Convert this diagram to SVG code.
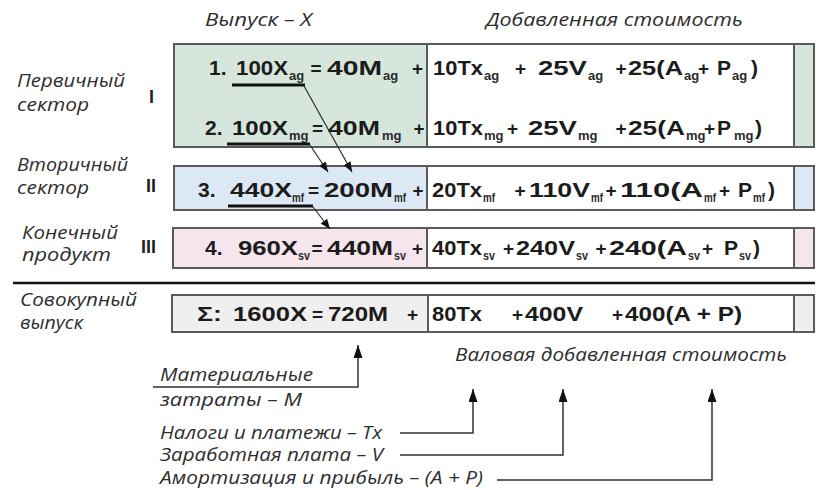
<svg xmlns="http://www.w3.org/2000/svg" width="822" height="490" viewBox="0 0 822 490">
<style>
  .eq { font-family: "Liberation Sans", Arial, sans-serif; font-weight: bold; font-size: 21px; fill: #1c1c1c; }
  .op { font-family: "Liberation Sans", Arial, sans-serif; font-weight: bold; font-size: 19px; fill: #1c1c1c; }
  .sub { font-family: "Liberation Sans", Arial, sans-serif; font-weight: bold; font-size: 13px; fill: #2a2a2a; }
  .lbl { font-family: "Open Sans", "Noto Sans", "Liberation Sans", sans-serif; font-style: italic; font-size: 18px; fill: #2e2e2e; }
  .rom { font-family: "Liberation Sans", Arial, sans-serif; font-weight: bold; font-size: 18px; fill: #222; }
  .box { stroke: #5a5a5a; stroke-width: 2; }
  .inner { fill: #ffffff; stroke: #5a5a5a; stroke-width: 2; }
  .ul { stroke: #111; stroke-width: 3; fill: none; }
  .diag { stroke: #2e2e2e; stroke-width: 1.2; fill: none; marker-end: url(#ahS); }
  .call { stroke: #333; stroke-width: 1.5; fill: none; marker-end: url(#ahB); }
</style>
<defs>
  <marker id="ahS" viewBox="0 0 10 8" refX="10" refY="4" markerWidth="10" markerHeight="8" markerUnits="userSpaceOnUse" orient="auto">
    <path d="M0,0 L10,4 L0,8 z" fill="#111"/>
  </marker>
  <marker id="ahB" viewBox="0 0 13 9" refX="13" refY="4.5" markerWidth="13" markerHeight="9" markerUnits="userSpaceOnUse" orient="auto">
    <path d="M0,0 L13,4.5 L0,9 z" fill="#111"/>
  </marker>
</defs>
<rect width="822" height="490" fill="#ffffff"/>

<g id="headers">
  <text class="lbl" x="205" y="26" textLength="107" lengthAdjust="spacingAndGlyphs">Выпуск – X</text>
  <text class="lbl" x="486" y="26" textLength="257" lengthAdjust="spacingAndGlyphs">Добавленная стоимость</text>
</g>

<g id="sector-labels">
  <text class="lbl" x="17" y="87" textLength="108" lengthAdjust="spacingAndGlyphs">Первичный</text>
  <text class="lbl" x="17" y="111" textLength="72" lengthAdjust="spacingAndGlyphs">сектор</text>
  <text class="rom" x="149" y="103">I</text>
  <text class="lbl" x="17" y="171" textLength="111" lengthAdjust="spacingAndGlyphs">Вторичный</text>
  <text class="lbl" x="17" y="194" textLength="72" lengthAdjust="spacingAndGlyphs">сектор</text>
  <text class="rom" x="146" y="192">II</text>
  <text class="lbl" x="22" y="239" textLength="96" lengthAdjust="spacingAndGlyphs">Конечный</text>
  <text class="lbl" x="22" y="261" textLength="89" lengthAdjust="spacingAndGlyphs">продукт</text>
  <text class="rom" x="141" y="253">III</text>
  <text class="lbl" x="20" y="306" textLength="117" lengthAdjust="spacingAndGlyphs">Совокупный</text>
  <text class="lbl" x="20" y="329" textLength="63" lengthAdjust="spacingAndGlyphs">выпуск</text>
</g>

<g id="primary-sector">
  <rect class="box" x="174" y="44" width="640" height="103" fill="#d6e6dc"/>
  <rect class="inner" x="427" y="44" width="367" height="103"/>
  <text class="eq" x="209" y="75">1.</text>
  <text class="eq" x="236" y="75" textLength="52" lengthAdjust="spacingAndGlyphs">100X</text>
  <text class="sub" x="289" y="80">ag</text>
  <text class="op" x="310.5" y="75">=</text>
  <text class="eq" x="327" y="75" textLength="55" lengthAdjust="spacingAndGlyphs">40M</text>
  <text class="sub" x="383" y="80">ag</text>
  <text class="op" x="412" y="75">+</text>
  <text class="eq" x="433" y="75" textLength="50" lengthAdjust="spacingAndGlyphs">10Tx</text>
  <text class="sub" x="484" y="80">ag</text>
  <text class="op" x="515" y="75">+</text>
  <text class="eq" x="538" y="75" textLength="49" lengthAdjust="spacingAndGlyphs">25V</text>
  <text class="sub" x="588" y="80">ag</text>
  <text class="op" x="615.5" y="75">+</text>
  <text class="eq" x="628" y="75" textLength="55" lengthAdjust="spacingAndGlyphs">25(A</text>
  <text class="sub" x="684" y="80">ag</text>
  <text class="op" x="698" y="75">+</text>
  <text class="eq" x="717" y="75">P</text>
  <text class="sub" x="732" y="80">ag</text>
  <text class="eq" x="751" y="75">)</text>

  <text class="eq" x="205" y="135">2.</text>
  <text class="eq" x="232" y="135" textLength="56" lengthAdjust="spacingAndGlyphs">100X</text>
  <text class="sub" x="289" y="140">mg</text>
  <text class="op" x="312" y="135">=</text>
  <text class="eq" x="328" y="135" textLength="52" lengthAdjust="spacingAndGlyphs">40M</text>
  <text class="sub" x="382" y="140">mg</text>
  <text class="op" x="413.5" y="135">+</text>
  <text class="eq" x="433" y="135" textLength="50" lengthAdjust="spacingAndGlyphs">10Tx</text>
  <text class="sub" x="484" y="140">mg</text>
  <text class="op" x="507" y="135">+</text>
  <text class="eq" x="528" y="135" textLength="49" lengthAdjust="spacingAndGlyphs">25V</text>
  <text class="sub" x="578" y="140">mg</text>
  <text class="op" x="615.5" y="135">+</text>
  <text class="eq" x="628" y="135" textLength="57" lengthAdjust="spacingAndGlyphs">25(A</text>
  <text class="sub" x="686" y="140">mg</text>
  <text class="op" x="704" y="135">+</text>
  <text class="eq" x="717" y="135">P</text>
  <text class="sub" x="734" y="140">mg</text>
  <text class="eq" x="755" y="135">)</text>
</g>

<g id="secondary-sector">
  <rect class="box" x="174" y="166" width="640" height="44" fill="#dce9f4"/>
  <rect class="inner" x="427" y="166" width="367" height="44"/>
  <text class="eq" x="198" y="197">3.</text>
  <text class="eq" x="230" y="197" textLength="62" lengthAdjust="spacingAndGlyphs">440X</text>
  <text class="sub" x="292" y="202" textLength="12" lengthAdjust="spacingAndGlyphs">mf</text>
  <text class="op" x="308" y="197">=</text>
  <text class="eq" x="324" y="197" textLength="69" lengthAdjust="spacingAndGlyphs">200M</text>
  <text class="sub" x="394" y="202" textLength="12" lengthAdjust="spacingAndGlyphs">mf</text>
  <text class="op" x="412.5" y="197">+</text>
  <text class="eq" x="432" y="197" textLength="50" lengthAdjust="spacingAndGlyphs">20Tx</text>
  <text class="sub" x="483" y="202" textLength="12" lengthAdjust="spacingAndGlyphs">mf</text>
  <text class="op" x="514.5" y="197">+</text>
  <text class="eq" x="529" y="197" textLength="61" lengthAdjust="spacingAndGlyphs">110V</text>
  <text class="sub" x="591" y="202" textLength="12" lengthAdjust="spacingAndGlyphs">mf</text>
  <text class="op" x="605.5" y="197">+</text>
  <text class="eq" x="620" y="197" textLength="83" lengthAdjust="spacingAndGlyphs">110(A</text>
  <text class="sub" x="704" y="202" textLength="12" lengthAdjust="spacingAndGlyphs">mf</text>
  <text class="op" x="719" y="197">+</text>
  <text class="eq" x="738" y="197">P</text>
  <text class="sub" x="753" y="202" textLength="12" lengthAdjust="spacingAndGlyphs">mf</text>
  <text class="eq" x="768" y="197">)</text>
</g>

<g id="final-product">
  <rect class="box" x="173" y="228" width="641" height="40" fill="#f5e6ee"/>
  <rect class="inner" x="427" y="228" width="367" height="40"/>
  <text class="eq" x="205" y="255">4.</text>
  <text class="eq" x="238" y="255" textLength="60" lengthAdjust="spacingAndGlyphs">960X</text>
  <text class="sub" x="298" y="260" textLength="12" lengthAdjust="spacingAndGlyphs">sv</text>
  <text class="op" x="311.5" y="255">=</text>
  <text class="eq" x="327" y="255" textLength="66" lengthAdjust="spacingAndGlyphs">440M</text>
  <text class="sub" x="394" y="260" textLength="12" lengthAdjust="spacingAndGlyphs">sv</text>
  <text class="op" x="412" y="255">+</text>
  <text class="eq" x="432" y="255" textLength="50" lengthAdjust="spacingAndGlyphs">40Tx</text>
  <text class="sub" x="483" y="260" textLength="12" lengthAdjust="spacingAndGlyphs">sv</text>
  <text class="op" x="503" y="255">+</text>
  <text class="eq" x="516" y="255" textLength="59" lengthAdjust="spacingAndGlyphs">240V</text>
  <text class="sub" x="576" y="260" textLength="12" lengthAdjust="spacingAndGlyphs">sv</text>
  <text class="op" x="595.5" y="255">+</text>
  <text class="eq" x="609" y="255" textLength="78" lengthAdjust="spacingAndGlyphs">240(A</text>
  <text class="sub" x="688" y="260" textLength="12" lengthAdjust="spacingAndGlyphs">sv</text>
  <text class="op" x="702" y="255">+</text>
  <text class="eq" x="724" y="255">P</text>
  <text class="sub" x="739" y="260" textLength="12" lengthAdjust="spacingAndGlyphs">sv</text>
  <text class="eq" x="753" y="255">)</text>
</g>

<g id="separator">
  <line x1="13" y1="283" x2="815" y2="283" stroke="#111" stroke-width="2.5"/>
</g>

<g id="total-output">
  <rect class="box" x="172" y="295" width="642" height="37" fill="#efefef"/>
  <rect class="inner" x="428" y="295" width="366" height="37"/>
  <text class="eq" x="197" y="321" textLength="25" lengthAdjust="spacingAndGlyphs">Σ:</text>
  <text class="eq" x="233" y="321" textLength="74" lengthAdjust="spacingAndGlyphs">1600X</text>
  <text class="op" x="312" y="321">=</text>
  <text class="eq" x="328" y="321" textLength="60" lengthAdjust="spacingAndGlyphs">720M</text>
  <text class="op" x="407" y="321">+</text>
  <text class="eq" x="432" y="321" textLength="50" lengthAdjust="spacingAndGlyphs">80Tx</text>
  <text class="op" x="512" y="321">+</text>
  <text class="eq" x="525" y="321" textLength="58" lengthAdjust="spacingAndGlyphs">400V</text>
  <text class="op" x="612" y="321">+</text>
  <text class="eq" x="625" y="321" textLength="117" lengthAdjust="spacingAndGlyphs">400(A + P)</text>
</g>

<g id="legend">
  <text class="lbl" x="455" y="361" textLength="332" lengthAdjust="spacingAndGlyphs">Валовая добавленная стоимость</text>
  <text class="lbl" x="160" y="381" textLength="153" lengthAdjust="spacingAndGlyphs">Материальные</text>
  <text class="lbl" x="160" y="406" textLength="142" lengthAdjust="spacingAndGlyphs">затраты –  M</text>
  <text class="lbl" x="160" y="439" textLength="222" lengthAdjust="spacingAndGlyphs">Налоги и платежи –  Tx</text>
  <text class="lbl" x="160" y="461" textLength="223" lengthAdjust="spacingAndGlyphs">Заработная плата –  V</text>
  <text class="lbl" x="160" y="484" textLength="323" lengthAdjust="spacingAndGlyphs">Амортизация и прибыль – (A + P)</text>
</g>

<g id="connectors">
  <path class="ul" d="M232,85 H305"/>
  <path class="ul" d="M227,144 H310"/>
  <path class="ul" d="M228,206 H313"/>
  <path class="diag" d="M304,86 L352,172" stroke="#3e6b4f"/>
  <path class="diag" d="M310,145 L328,172"/>
  <path class="diag" d="M313,207 L330,229"/>
  <path class="call" d="M153,387 H358 V345"/>
  <path class="call" d="M400,433 H473 V389"/>
  <path class="call" d="M400,455 H563 V389"/>
  <path class="call" d="M497,480 H712 V389"/>
</g>
</svg>
